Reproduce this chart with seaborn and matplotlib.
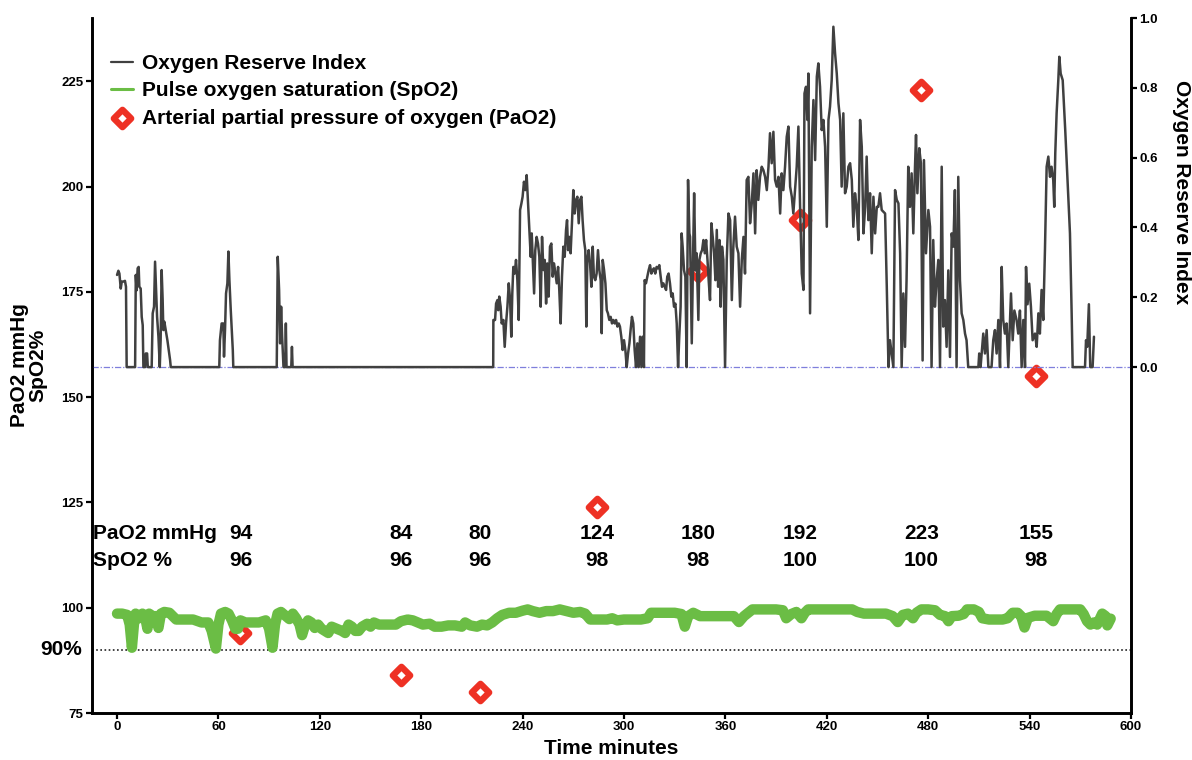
import matplotlib
matplotlib.use("Agg")
import matplotlib.pyplot as plt
import matplotlib.transforms as mtransforms
from matplotlib.markers import MarkerStyle
import seaborn as sns

# ---------------- data ----------------
ori_time = [
    0.0, 0.8, 1.4, 2.2, 2.8, 3.7, 4.7, 5.3, 5.7, 10.7, 11.1, 11.6, 12.2, 12.8, 13.2, 14.0, 14.6, 15.2, 15.6,
    16.6, 17.0, 17.8, 18.2, 20.5, 21.1, 21.9, 22.5, 23.1, 23.7, 24.5, 25.3, 25.8, 26.4, 27.0, 27.4, 28.0,
    28.8, 29.8, 30.6, 31.4, 31.8,
    60.5, 60.9, 61.9, 62.9, 63.3, 63.9, 64.5, 65.3, 65.9, 66.5, 67.3, 67.9, 68.5, 68.8,
    94.5, 95.1, 95.9, 96.5, 97.1, 97.7, 98.5, 99.5, 99.9, 100.3, 103.1, 103.5, 103.9,
    222.6, 222.7, 223.7, 224.3, 225.1, 225.6, 226.2, 227.0, 227.6, 228.6, 229.4, 230.2, 231.0, 231.8, 232.6,
    233.3, 233.9, 234.5, 235.3, 236.1, 236.9, 237.7, 238.5, 239.3, 240.0, 240.8, 241.6, 242.4, 243.2, 244.0,
    244.8, 245.4, 246.0, 246.8, 247.5, 248.3, 249.1, 249.9, 250.7, 251.5, 252.3, 253.1, 253.9, 254.6, 255.4,
    256.2, 257.0, 257.8, 258.6, 259.4, 260.2, 261.0, 261.7, 262.5, 263.3, 264.1, 264.9, 265.7, 266.3, 266.9,
    267.7, 268.4, 269.2, 270.0, 270.8, 271.6, 272.4, 273.2, 274.0, 274.8, 275.5, 276.3, 277.1, 277.7, 278.3,
    279.1, 279.9, 280.7, 281.5, 282.2, 283.0, 283.8, 284.6, 285.4, 286.2, 286.8, 287.4, 288.2, 289.0, 289.8,
    290.5, 291.3, 292.1, 292.9, 293.7, 294.5, 295.3, 296.1, 296.9, 297.6, 298.4, 299.2, 300.0, 300.8, 301.6,
    302.4, 303.2, 303.9, 304.7, 305.5, 306.3, 307.1, 307.9, 308.7, 309.5, 310.3, 311.0, 311.8, 312.2, 313.0,
    313.8, 314.6, 315.4, 316.2, 317.0, 317.7, 318.5, 319.3, 320.1, 320.9, 321.7, 322.5, 323.3, 324.1, 324.9,
    325.6, 326.4, 327.2, 328.0, 328.8, 329.6, 330.4, 331.2, 332.0, 332.7, 333.5, 334.1, 334.7, 335.5, 336.3,
    337.1, 337.9, 338.7,
    339.1, 340.1, 340.9, 341.5, 342.3, 343.0, 344.0, 344.6, 345.4, 346.2, 347.0, 347.8, 348.6, 349.4, 350.1,
    350.9, 351.7, 352.5, 353.3, 354.1, 354.9, 355.7, 356.5, 357.2, 358.0, 358.8, 359.8, 360.8, 361.8, 362.8,
    363.8, 364.7, 365.7, 366.7, 367.7, 368.7, 369.7, 370.7, 371.6, 372.6, 373.6, 374.6, 375.6, 376.6, 377.6,
    378.5, 379.5, 380.5, 381.5, 382.5, 383.5, 384.5, 385.5, 386.4, 387.4, 388.4, 389.4, 390.4, 391.4, 392.4,
    393.3, 394.3, 395.3, 396.3, 397.3, 398.3, 399.3, 400.2, 401.2, 402.2, 403.2, 404.2, 405.2, 406.2, 406.8,
    407.7, 408.5, 409.1, 410.1, 411.1, 412.1, 413.1, 414.1, 415.0, 416.0, 417.0, 418.0, 419.0, 420.0, 421.0,
    421.9, 422.9, 423.9, 424.9, 425.9, 426.9, 427.9, 428.8, 429.8, 430.8, 431.8, 432.8, 433.8, 434.8, 435.7,
    436.7, 437.7, 438.7, 439.7, 440.7, 441.7, 442.7, 443.6, 444.6, 445.6, 446.6, 447.6, 448.6, 449.6, 450.5,
    451.5, 452.5, 454.5, 455.5, 456.5, 457.4, 458.4, 459.4, 460.4, 461.4, 462.4, 463.4,
    464.3, 465.3, 466.3, 467.2, 468.2, 469.2, 470.2, 471.2, 472.2, 472.8, 473.6, 474.7, 475.7, 476.7, 477.5,
    478.7, 480.1, 481.1, 482.0, 483.0, 484.0, 485.0, 486.0, 487.0, 488.0, 488.9, 489.9, 490.9, 491.9, 492.9,
    493.9, 494.9, 495.8, 496.8, 497.8, 498.8, 499.8, 500.8, 501.8, 502.7, 503.7, 509.7, 510.2, 511.0, 512.6,
    513.6, 514.6, 515.6, 517.5, 518.5, 519.5, 520.5, 521.5, 522.5, 523.5, 524.4, 525.4, 526.4, 527.4, 529.0,
    530.0, 531.0, 532.3, 533.3, 534.3, 535.3, 536.3, 537.3, 537.9, 538.8, 539.8, 540.8, 541.8, 543.2, 544.2,
    545.2, 546.1, 547.1, 548.1, 549.1, 550.1, 551.1, 552.1, 553.0, 554.0, 554.6, 555.2, 556.0, 557.0, 557.6,
    558.4, 559.6, 560.3, 561.1, 561.9, 562.9, 563.9, 564.9, 565.5, 572.8, 573.4, 574.1, 575.1, 575.9, 577.3,
    578.1,
]
ori_value = [
    0.264, 0.276, 0.268, 0.225, 0.245, 0.245, 0.247, 0.230, 0.0, 0.0, 0.264, 0.220, 0.283, 0.287, 0.230, 0.225, 0.144, 0.120, 0.0,
    0.0, 0.039, 0.039, 0.0, 0.0, 0.154, 0.173, 0.302, 0.220, 0.144, 0.087, 0.0, 0.077, 0.278, 0.192, 0.106, 0.130,
    0.106, 0.077, 0.049, 0.020, 0.0,
    0.0, 0.077, 0.125, 0.125, 0.030, 0.106, 0.211, 0.240, 0.331, 0.249, 0.163, 0.106, 0.049, 0.0,
    0.0, 0.316, 0.221, 0.068, 0.173, 0.087, 0.0, 0.0, 0.125, 0.0, 0.0, 0.058, 0.0,
    0.0, 0.135, 0.135, 0.182, 0.192, 0.163, 0.202, 0.173, 0.125, 0.135, 0.058, 0.125, 0.173, 0.240, 0.192,
    0.087, 0.211, 0.287, 0.268, 0.307, 0.249, 0.135, 0.450, 0.469, 0.488, 0.531, 0.507, 0.550, 0.469, 0.393,
    0.316, 0.383, 0.307, 0.211, 0.335, 0.373, 0.354, 0.316, 0.173, 0.373, 0.278, 0.307, 0.182, 0.297, 0.202,
    0.345, 0.354, 0.259, 0.297, 0.268, 0.240, 0.287, 0.221, 0.125, 0.259, 0.345, 0.316, 0.393, 0.421, 0.335,
    0.373, 0.326, 0.412, 0.507, 0.440, 0.479, 0.488, 0.412, 0.479, 0.488, 0.421, 0.364, 0.335, 0.116, 0.307,
    0.335, 0.297, 0.230, 0.345, 0.259, 0.249, 0.268, 0.335, 0.278, 0.249, 0.097, 0.307, 0.278, 0.240, 0.163,
    0.154, 0.135, 0.144, 0.125, 0.135, 0.125, 0.135, 0.116, 0.125, 0.116, 0.087, 0.049, 0.077, 0.049, 0.0,
    0.039, 0.068, 0.106, 0.144, 0.125, 0.049, 0.0, 0.068, 0.0, 0.087, 0.0, 0.087, 0.0, 0.249, 0.240,
    0.259, 0.278, 0.292, 0.268, 0.278, 0.283, 0.268, 0.287, 0.283, 0.292, 0.259, 0.230, 0.240, 0.230, 0.221,
    0.259, 0.268, 0.240, 0.202, 0.211, 0.173, 0.182, 0.125, 0.0, 0.087, 0.173, 0.383, 0.345, 0.278, 0.259,
    0.0, 0.536, 0.383,
    0.373, 0.068, 0.326, 0.498, 0.277, 0.326, 0.135, 0.307, 0.326, 0.335, 0.364, 0.326, 0.364, 0.307, 0.249,
    0.192, 0.412, 0.373, 0.326, 0.249, 0.393, 0.230, 0.364, 0.173, 0.345, 0.307, 0.0, 0.307, 0.440, 0.421,
    0.192, 0.345, 0.431, 0.345, 0.326, 0.173, 0.307, 0.373, 0.268, 0.536, 0.545, 0.412, 0.469, 0.555, 0.383,
    0.564, 0.479, 0.545, 0.574, 0.564, 0.545, 0.507, 0.574, 0.670, 0.584, 0.674, 0.536, 0.517, 0.545, 0.440,
    0.555, 0.507, 0.574, 0.660, 0.689, 0.517, 0.488, 0.440, 0.507, 0.574, 0.689, 0.459, 0.268, 0.221, 0.784,
    0.803, 0.708, 0.841, 0.154, 0.631, 0.765, 0.593, 0.832, 0.870, 0.803, 0.679, 0.708, 0.631, 0.402, 0.708,
    0.746, 0.822, 0.975, 0.899, 0.841, 0.756, 0.708, 0.517, 0.727, 0.498, 0.517, 0.574, 0.584, 0.536, 0.402,
    0.498, 0.459, 0.364, 0.708, 0.631, 0.383, 0.459, 0.603, 0.421, 0.498, 0.326, 0.488, 0.383, 0.459, 0.459,
    0.498, 0.450, 0.440, 0.230, 0.0, 0.077, 0.039, 0.0, 0.507, 0.479, 0.469, 0.326,
    0.0, 0.211, 0.058, 0.249, 0.574, 0.459, 0.555, 0.383, 0.574, 0.665, 0.498, 0.627, 0.584, 0.019, 0.593,
    0.326, 0.450, 0.402, 0.0, 0.364, 0.173, 0.249, 0.307, 0.0, 0.574, 0.116, 0.192, 0.058, 0.277, 0.029,
    0.383, 0.345, 0.507, 0.0, 0.545, 0.249, 0.154, 0.135, 0.096, 0.077, 0.0, 0.0, 0.039, 0.0, 0.096,
    0.039, 0.106, 0.0, 0.0, 0.077, 0.106, 0.039, 0.135, 0.0, 0.287, 0.135, 0.096, 0.125, 0.0, 0.211,
    0.077, 0.162, 0.135, 0.096, 0.162, 0.0, 0.135, 0.0, 0.287, 0.180, 0.239, 0.173, 0.077, 0.096, 0.058,
    0.154, 0.096, 0.221, 0.135, 0.335, 0.574, 0.603, 0.545, 0.574, 0.536, 0.459, 0.612, 0.727, 0.822, 0.889,
    0.841, 0.822, 0.756, 0.679, 0.593, 0.488, 0.383, 0.154, 0.0, 0.0, 0.077, 0.058, 0.180, 0.0, 0.0,
    0.087,
]

spo2_time = [
    0, 3, 6, 7.5, 8.8, 10, 11, 13, 15, 17, 18, 19, 21, 23, 24.5, 26, 28, 31, 33, 35, 40, 45, 50, 54, 56,
    58.5, 60, 61.5, 64, 66, 68, 70, 71.5, 73, 76, 80, 84, 88, 90, 92, 93.5, 95, 97, 100, 102, 104, 106,
    108, 109.5, 111, 113, 115, 117, 119, 121, 123, 125, 127, 130, 133, 135, 137, 139, 141, 143, 145, 148,
    150, 152, 155, 160, 165, 168, 172, 175, 178, 181, 185, 188, 192, 196, 200, 204, 206, 209, 213, 216,
    219, 222, 225, 228, 232, 236, 240, 243, 246, 250, 254, 258, 262, 266, 270, 274, 277, 280, 285, 290,
    293, 296, 300, 305, 310, 314, 316, 320, 325, 330, 334, 336, 338, 341, 345, 350, 355, 360, 365, 368,
    371, 376, 380, 385, 390, 394, 396, 399, 402, 405, 407, 409, 415, 420, 425, 430, 435, 438, 442, 446,
    450, 455, 459, 462, 465, 468, 471, 473, 476, 480, 484, 487, 490, 492, 494, 498, 501, 503, 507, 510,
    512, 516, 520, 524, 527, 530, 533, 535, 537, 539, 543, 547, 550, 554, 556, 558, 562, 566, 570, 572,
    574, 576, 578, 580, 583, 585, 586, 588,
]
spo2_value = [
    98.6, 98.6, 98.3, 96, 90.5, 96, 98.6, 97.5, 98.6, 97, 95, 98.6, 98, 98, 95.2, 98.6, 99, 98.8, 98, 97.2,
    97.2, 97.2, 96.5, 96.5, 94.5, 90.3, 96, 98.6, 99, 98.6, 97, 95, 95, 97, 96.5, 96.5, 96.5, 97, 95, 90.5,
    96, 98.6, 99, 98, 97.3, 98.6, 97.5, 96, 93.5, 95.5, 97, 96.5, 95.2, 96, 95, 94.5, 94, 95.5, 95, 94.5,
    94, 96, 95.5, 94.5, 94.5, 95.5, 96.2, 95.5, 96.5, 96, 96, 96, 96.8, 97.2, 97, 96.5, 96, 96.2, 95.5,
    95.5, 95.8, 95.8, 95.5, 96.5, 95.8, 95.5, 96, 95.8, 96.5, 97.5, 98.3, 98.8, 98.8, 99.3, 99.6, 99.2,
    98.8, 99.2, 99.2, 99.6, 99.2, 98.8, 99, 98.6, 97.2, 97.2, 97.2, 97.5, 97, 97.2, 97.2, 97.2, 97.5,
    98.8, 98.8, 98.8, 98.8, 98.5, 95.5, 98, 98.8, 98, 98, 98, 98, 98, 96.6, 98, 99.6, 99.6, 99.6, 99.6,
    99.4, 97.5, 98.5, 99, 97.5, 98.8, 99.6, 99.6, 99.6, 99.6, 99.6, 99.6, 99, 98.6, 98.6, 98.6, 98.6, 98,
    96.6, 98.3, 98.6, 97.5, 98.8, 99.6, 99.6, 99.4, 98.3, 98, 96.8, 98, 98.1, 98.5, 99.6, 99.6, 99, 97.5,
    97.2, 97.2, 97.2, 97.5, 98.8, 98.8, 98, 95.3, 97.6, 98.1, 98.1, 98.1, 96.8, 98.5, 99.6, 99.6, 99.6,
    99.6, 98.5, 96.8, 96, 96.5, 96, 98.6, 98, 95.8, 97.4,
]

pao2_time = [73, 168, 215, 284, 344, 404, 476, 544]
pao2_value = [94, 84, 80, 124, 180, 192, 223, 155]
spo2_at_sample = [96, 96, 96, 98, 98, 100, 100, 98]

x_ticks = [0, 60, 120, 180, 240, 300, 360, 420, 480, 540, 600]
left_ticks = [75, 100, 125, 150, 175, 200, 225]
right_ticks = [0.0, 0.2, 0.4, 0.6, 0.8, 1.0]

# ---------------- style ----------------
sns.set_style("ticks")
plt.rcParams["font.family"] = ["Liberation Sans", "DejaVu Sans"]
plt.rcParams["font.weight"] = "bold"
plt.rcParams["axes.labelweight"] = "bold"
plt.rcParams["text.color"] = "black"
plt.rcParams["axes.labelcolor"] = "black"
plt.rcParams["xtick.color"] = "black"
plt.rcParams["ytick.color"] = "black"
plt.rcParams["axes.edgecolor"] = "black"

DARK = "#404040"
GREEN = "#6BBD45"
RED = "#EE3124"

fig = plt.figure(figsize=(11.92, 7.6), dpi=100)
ax = fig.add_axes([0.0772, 0.0618, 0.8716, 0.9145])
ax2 = ax.twinx()

# reference lines
ax.axhline(90, color="#222222", lw=1.2, ls=(0, (1, 1.5)), zorder=1)
ax2.axhline(0, color="#7f7fdc", lw=0.9, ls=(0, (5, 1.5, 1, 1.5)), zorder=1)

# PaO2 diamonds
sns.scatterplot(x=pao2_time, y=pao2_value, ax=ax,
                marker=MarkerStyle("D", joinstyle="round"), s=78,
                facecolor="white", edgecolor=RED, linewidth=4.6,
                label="Arterial partial pressure of oxygen (PaO2)", zorder=3)
# SpO2 line
sns.lineplot(x=spo2_time, y=spo2_value, ax=ax, color=GREEN, lw=7.5,
             estimator=None, sort=False, solid_capstyle="round",
             solid_joinstyle="round", label="Pulse oxygen saturation (SpO2)", zorder=4)
# ORi line
sns.lineplot(x=ori_time, y=ori_value, ax=ax2, color=DARK, lw=1.8,
             estimator=None, sort=False, label="Oxygen Reserve Index", zorder=3)

for a in (ax, ax2):
    if a.get_legend() is not None:
        a.get_legend().remove()

# limits
ax.set_xlim(-14.8, 600)
ax.set_ylim(75, 240)
ax2.set_ylim(-0.991, 1.0)
ax.set_xticks(x_ticks)
ax.set_yticks(left_ticks)
ax2.set_yticks(right_ticks)
ax2.set_yticklabels([f"{v:.1f}" for v in right_ticks])

# spines
for a in (ax, ax2):
    a.spines["top"].set_visible(False)
    for s in ("left", "right", "bottom"):
        a.spines[s].set_linewidth(1.9)
        a.spines[s].set_color("black")
ax.tick_params(axis="both", direction="out", length=4, width=1.6, labelsize=9.5, pad=2)
ax2.tick_params(axis="y", direction="out", length=4, width=1.6, labelsize=9.5, pad=2)

# labels
ax.set_xlabel("Time minutes", fontsize=15, fontweight="bold", labelpad=4)
ax.set_ylabel("PaO2 mmHg\nSpO2%", fontsize=15, fontweight="bold", labelpad=10, linespacing=1.0)
ax2.set_ylabel("Oxygen Reserve Index", fontsize=15, fontweight="bold", rotation=270, va="center")
ax2.yaxis.set_label_coords(1.049, 0.749)

# 90% marker text
tr = mtransforms.blended_transform_factory(ax.transAxes, ax.transData)
ax.text(-0.0096, 90, "90%", transform=tr, ha="right", va="center", fontsize=15, fontweight="bold")

# sample annotation rows
row_pa, row_sp = 117.6, 111.2
ax.text(0.001, row_pa, "PaO2 mmHg", transform=tr, ha="left", va="center", fontsize=15, fontweight="bold")
ax.text(0.001, row_sp, "SpO2 %", transform=tr, ha="left", va="center", fontsize=15, fontweight="bold")
for t, pv, sv in zip(pao2_time, pao2_value, spo2_at_sample):
    ax.text(t, row_pa, str(pv), ha="center", va="center", fontsize=15, fontweight="bold")
    ax.text(t, row_sp, str(sv), ha="center", va="center", fontsize=15, fontweight="bold")

# legend
h1, l1 = ax.get_legend_handles_labels()
h2, l2 = ax2.get_legend_handles_labels()
hmap = dict(zip(l1 + l2, h1 + h2))
order = ["Oxygen Reserve Index", "Pulse oxygen saturation (SpO2)", "Arterial partial pressure of oxygen (PaO2)"]
leg = ax2.legend([hmap[k] for k in order], order, loc="upper left",
                 bbox_to_anchor=(0.018, 0.948), frameon=False, fontsize=15,
                 handlelength=1.05, handletextpad=0.45, labelspacing=0.4,
                 borderpad=0, borderaxespad=0)
for txt in leg.get_texts():
    txt.set_fontweight("bold")
leg.legend_handles[0].set_linewidth(1.6)
leg.legend_handles[1].set_linewidth(2.2)

fig.savefig("out.png", dpi=100)
